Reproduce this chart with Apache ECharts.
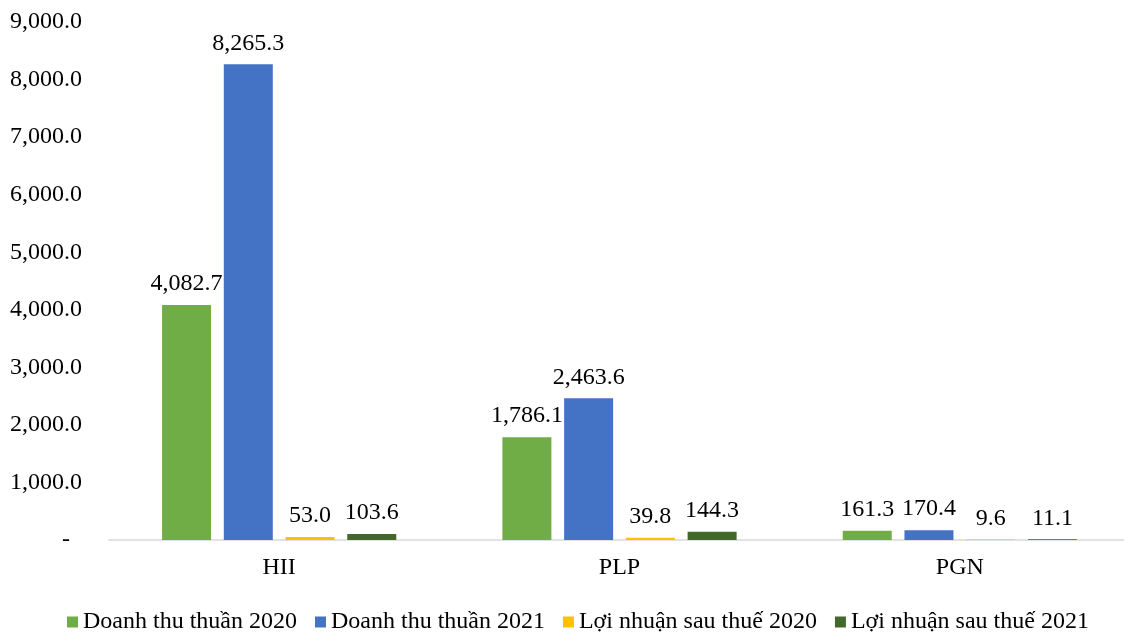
<!DOCTYPE html>
<html>
<head>
<meta charset="utf-8">
<script src="https://cdn.jsdelivr.net/npm/echarts@6/dist/echarts.min.js"></script>
<style>
html, body { margin: 0; padding: 0; background: #fff; overflow: hidden; }
#main { width: 1130px; height: 633px; }
</style>
</head>
<body>
<div id="main"></div>
<script>
var categories = ['HII', 'PLP', 'PGN'];
var seriesNames = ['Doanh thu thuần 2020', 'Doanh thu thuần 2021', 'Lợi nhuận sau thuế 2020', 'Lợi nhuận sau thuế 2021'];
var revenue2020 = [4082.7, 1786.1, 161.3];
var revenue2021 = [8265.3, 2463.6, 170.4];
var profit2020 = [53.0, 39.8, 9.6];
var profit2021 = [103.6, 144.3, 11.1];
var colors = ['#70AD47', '#4472C4', '#FFC000', '#43682B'];

var font = 'Liberation Serif';
var fs = 24;

function fmt(v) {
	return Number(v).toLocaleString('en-US', { minimumFractionDigits: 1, maximumFractionDigits: 1 });
}

function makeSeries(name, data, color) {
	return {
		name: name,
		type: 'bar',
		data: data,
		barWidth: 49,
		barGap: '26%',
		itemStyle: { color: color },
		label: {
			show: true,
			position: 'top',
			distance: 9,
			color: '#000',
			fontFamily: font,
			fontSize: fs,
			formatter: function (p) { return fmt(p.value); }
		}
	};
}

// the div is a little wider than the window so the last category sits where it does in the original
var myChart = echarts.init(document.getElementById('main'));
var option = {
	animation: false,
	textStyle: { fontFamily: font },
	grid: { left: 109, right: 0, top: 22, bottom: 93 },
	legend: {
		top: 605,
		left: 62,
		itemWidth: 11,
		itemHeight: 11,
		itemGap: 18,
		icon: 'rect',
		textStyle: { fontFamily: font, fontSize: fs, color: '#000' },
		data: seriesNames
	},
	xAxis: {
		type: 'category',
		data: categories,
		axisTick: { show: false },
		axisLine: { lineStyle: { color: '#D9D9D9', width: 1.5 } },
		axisLabel: { color: '#000', fontFamily: font, fontSize: fs, margin: 16 }
	},
	yAxis: {
		type: 'value',
		min: 0,
		max: 9000,
		interval: 1000,
		splitLine: { show: false },
		axisLine: { show: false },
		axisTick: { show: false },
		axisLabel: {
			color: '#000',
			fontFamily: font,
			fontSize: fs,
			margin: 27,
			formatter: function (v) { return v === 0 ? '{d|-}' : fmt(v); },
			rich: { d: { fontFamily: font, fontSize: fs, color: '#000', padding: [0, 12, 0, 0] } }
		}
	},
	series: [
		makeSeries(seriesNames[0], revenue2020, colors[0]),
		makeSeries(seriesNames[1], revenue2021, colors[1]),
		makeSeries(seriesNames[2], profit2020, colors[2]),
		makeSeries(seriesNames[3], profit2021, colors[3])
	]
};
myChart.setOption(option);
</script>
</body>
</html>
